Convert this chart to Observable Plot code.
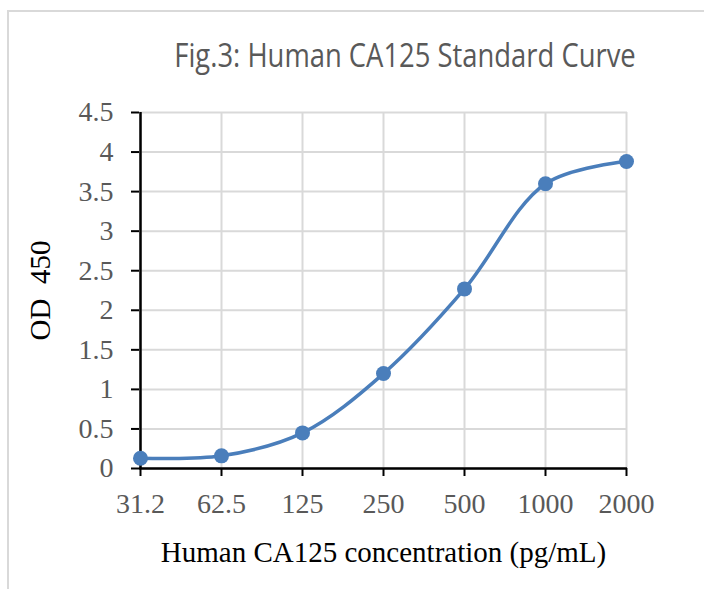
<!DOCTYPE html>
<html>
<head>
<meta charset="utf-8">
<script src="https://cdn.jsdelivr.net/npm/d3@7"></script>
<script src="https://cdn.jsdelivr.net/npm/@observablehq/plot@0.6"></script>
<style>
  html, body { margin: 0; padding: 0; background: #fff; }
  #wrap { position: relative; width: 704px; height: 589px; overflow: hidden; }
  #border { position: absolute; left: 7px; top: 10px; width: 720px; height: 620px;
            border-left: 2px solid #d9d9d9; border-top: 2px solid #d9d9d9; box-sizing: border-box; }
  #title { position: absolute; left: 405px; top: 38px; transform: translateX(-50%) scaleX(0.83); transform-origin: center;
           font-family: "Open Sans", sans-serif; font-size: 33px; color: #595959; line-height: 1; white-space: nowrap; }
  #chart { position: absolute; left: 0; top: 0; }
</style>
</head>
<body>
<div id="wrap">
  <div id="border"></div>
  <div id="title">Fig.3: Human CA125 Standard Curve</div>
  <div id="chart"></div>
</div>
<script>
const concentrations = ["31.2", "62.5", "125", "250", "500", "1000", "2000"];
const odValues = [0.13, 0.16, 0.45, 1.2, 2.27, 3.6, 3.88];
const yTicks = [0, 0.5, 1, 1.5, 2, 2.5, 3, 3.5, 4, 4.5];
const xLabel = "Human CA125 concentration (pg/mL)";
const yLabel = "OD  450";

const data = concentrations.map((c, i) => ({conc: c, od: odValues[i]}));

const blue = "#4a7ebb";
const grid = "#d9d9d9";
const tickColor = "#595959";
const serif = "'Liberation Serif', 'Times New Roman', serif";

const chart = Plot.plot({
  width: 704,
  height: 589,
  marginLeft: 139,
  marginRight: 77,
  marginTop: 112,
  marginBottom: 121,
  style: {fontFamily: serif, background: "transparent", overflow: "visible"},
  x: {type: "point", domain: concentrations, padding: 0},
  y: {domain: [0, 4.5]},
  marks: [
    Plot.gridX(concentrations, {stroke: grid, strokeOpacity: 1, strokeWidth: 2}),
    Plot.gridY(yTicks, {stroke: grid, strokeOpacity: 1, strokeWidth: 2}),
    Plot.axisX({ticks: concentrations, tickSize: 8, tickPadding: 17, fontSize: 28, color: tickColor, stroke: "#000", strokeWidth: 2, label: null}),
    Plot.axisY({ticks: yTicks, tickSize: 8, tickPadding: 18, fontSize: 28, color: tickColor, stroke: "#000", strokeWidth: 2, label: null, tickFormat: d => String(d)}),
    Plot.ruleY([0], {stroke: "#000", strokeWidth: 2.5}),
    Plot.ruleX([concentrations[0]], {stroke: "#000", strokeWidth: 2.5}),
    Plot.line(data, {x: "conc", y: "od", stroke: blue, strokeWidth: 3.5, curve: "catmull-rom"}),
    Plot.dot(data, {x: "conc", y: "od", r: 7.5, fill: blue, stroke: blue, strokeWidth: 0}),
    Plot.text([xLabel], {frameAnchor: "bottom", dy: 84, lineAnchor: "middle", fontSize: 29, fill: "#000", fontFamily: serif}),
    Plot.text([yLabel], {frameAnchor: "left", dx: -99, rotate: -90, textAnchor: "middle", lineAnchor: "middle", fontSize: 29, fill: "#000", fontFamily: serif})
  ]
});
document.getElementById("chart").appendChild(chart);
</script>
</body>
</html>
